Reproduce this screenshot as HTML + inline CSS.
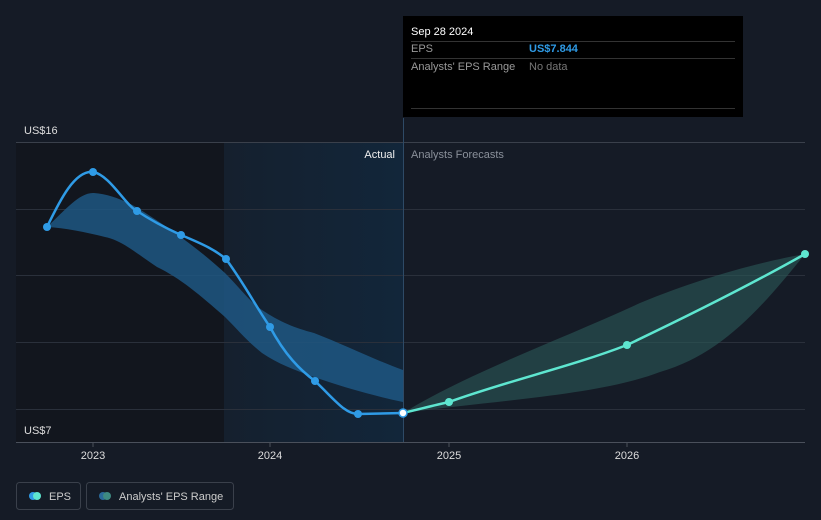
<!DOCTYPE html>
<html><head><style>
body{margin:0;background:#151b26;font-family:"Liberation Sans",sans-serif;}
</style></head><body>
<svg width="821" height="520" xmlns="http://www.w3.org/2000/svg" style="display:block">
<defs>
<linearGradient id="hl" x1="0" x2="1"><stop offset="0" stop-color="#15202e"/><stop offset="1" stop-color="#12263a"/></linearGradient>
</defs>
<rect width="821" height="520" fill="#151b26"/>
<rect x="16" y="142" width="208" height="300" fill="#12161e"/>
<rect x="224" y="142" width="179" height="300" fill="url(#hl)"/>
<g stroke="#2a303b" stroke-width="1">
<line x1="16" y1="142.5" x2="805" y2="142.5" stroke="#3a404b"/>
<line x1="16" y1="209.5" x2="805" y2="209.5"/>
<line x1="16" y1="275.5" x2="805" y2="275.5"/>
<line x1="16" y1="342.5" x2="805" y2="342.5"/>
<line x1="16" y1="409.5" x2="805" y2="409.5"/>
<line x1="16" y1="442.5" x2="805" y2="442.5" stroke="#4a505b"/>
</g>
<line x1="403.5" y1="118" x2="403.5" y2="442" stroke="#2e4a66"/>
<path d="M47,227 C65,210 80,192 94,193 C110,194 125,201 136,207 C170,228 200,250 225,273 C240,288 250,302 262,310 C280,322 295,328 314,333 C345,345 375,360 403,370 L403,402 C370,395 340,386 314,377 C295,370 278,364 262,353 C248,342 238,330 225,317 C200,295 180,278 157,267 C140,256 122,240 105,237 C85,232 65,228 47,227Z" fill="#1f5783" opacity="0.85"/>
<path d="M403,413 C470,372 560,340 640,303 C700,278 760,262 805,254 C760,310 720,355 660,372 C600,395 500,400 403,413Z" fill="#2b5a58" opacity="0.6"/>
<path d="M47,227 C60,200 75,170 93,172 C110,175 125,205 137,211 C155,223 170,230 181,235 C205,245 215,250 226,259 C245,285 255,305 270,327 C285,355 300,370 315,381 C335,400 345,414 358,414 L403,413" fill="none" stroke="#2f9be6" stroke-width="2.5"/>
<path d="M403,413 C420,409 435,405 449,402 C510,380 570,367 627,345 C690,315 750,285 805,254" fill="none" stroke="#5ee6d0" stroke-width="2.5"/>
<g fill="#2f9be6">
<circle cx="47" cy="227" r="4"/><circle cx="93" cy="172" r="4"/><circle cx="137" cy="211" r="4"/><circle cx="181" cy="235" r="4"/><circle cx="226" cy="259" r="4"/><circle cx="270" cy="327" r="4"/><circle cx="315" cy="381" r="4"/><circle cx="358" cy="414" r="4"/>
</g>
<g fill="#5ee6d0"><circle cx="449" cy="402" r="4"/><circle cx="627" cy="345" r="4"/><circle cx="805" cy="254" r="4"/></g>
<circle cx="403" cy="413" r="4" fill="#fff" stroke="#2f9be6" stroke-width="1.5"/>
<g font-size="11" fill="#ddd">
<text x="24" y="134">US$16</text><text x="24" y="434">US$7</text>
<text x="395" y="158" text-anchor="end" fill="#eee">Actual</text>
<text x="411" y="158" fill="#8a909a">Analysts Forecasts</text>
<text x="93" y="459" text-anchor="middle">2023</text><text x="270" y="459" text-anchor="middle">2024</text><text x="449" y="459" text-anchor="middle">2025</text><text x="627" y="459" text-anchor="middle">2026</text>
</g>
<g stroke="#4a505b"><line x1="93" y1="442" x2="93" y2="447"/><line x1="270" y1="442" x2="270" y2="447"/><line x1="449" y1="442" x2="449" y2="447"/><line x1="627" y1="442" x2="627" y2="447"/></g>
<rect x="403" y="16" width="340" height="101" fill="#000"/>
<g font-size="11">
<text x="411" y="35" fill="#fff">Sep 28 2024</text>
<line x1="411" y1="41.5" x2="735" y2="41.5" stroke="#333"/>
<text x="411" y="52" fill="#999">EPS</text><text x="529" y="52" fill="#2f9be6" font-weight="bold">US$7.844</text>
<line x1="411" y1="58.5" x2="735" y2="58.5" stroke="#333"/>
<text x="411" y="70" fill="#999">Analysts' EPS Range</text><text x="529" y="70" fill="#777">No data</text>
<line x1="411" y1="108.5" x2="735" y2="108.5" stroke="#333"/>
</g>
<rect x="16.5" y="482.5" width="64" height="27" rx="3" fill="none" stroke="#3a404b"/>
<circle cx="33" cy="496" r="4" fill="#2f9be6"/><circle cx="37" cy="496" r="4" fill="#5ee6d0"/>
<text x="49" y="500" font-size="11" fill="#ccc">EPS</text>
<rect x="86.5" y="482.5" width="147" height="27" rx="3" fill="none" stroke="#3a404b"/>
<circle cx="103" cy="496" r="4" fill="#2a6a9a"/><circle cx="107" cy="496" r="4" fill="#3e8a82"/>
<text x="119" y="500" font-size="11" fill="#ccc">Analysts' EPS Range</text>
</svg>
</body></html>
